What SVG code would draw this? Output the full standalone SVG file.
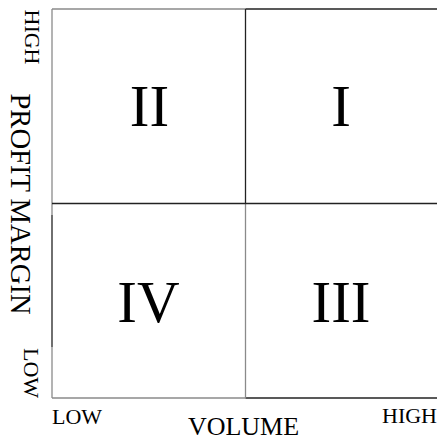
<svg xmlns="http://www.w3.org/2000/svg" width="437" height="440" viewBox="0 0 437 440">
<style>
text{font-family:"Liberation Serif","Times New Roman",serif;fill:#000}
.ax{font-size:22px}
.num{font-size:59px;text-anchor:middle}
.ln{fill:none;stroke-width:1.3}
.dk{stroke:#222}
.gr{stroke:#8a8a8a}
</style>
<rect width="437" height="440" fill="#fff"/>
<g id="grid">
<line class="ln gr" x1="52" y1="9" x2="245.5" y2="9"/>
<line class="ln dk" x1="245.5" y1="9" x2="437" y2="9"/>
<line class="ln gr" x1="52" y1="9" x2="52" y2="215"/>
<line class="ln dk" x1="52" y1="215" x2="52" y2="347"/>
<line class="ln gr" x1="52" y1="347" x2="52" y2="398"/>
<line class="ln gr" x1="52" y1="398" x2="245.5" y2="398"/>
<line class="ln dk" x1="245.5" y1="398" x2="437" y2="398"/>
<line class="ln dk" x1="245.5" y1="9" x2="245.5" y2="203.5"/>
<line class="ln gr" x1="245.5" y1="203.5" x2="245.5" y2="398"/>
<line class="ln dk" x1="52" y1="203.5" x2="437" y2="203.5"/>
</g>
<g id="q1"><text class="num" x="341" y="126">I</text></g>
<g id="q2"><text class="num" x="149.5" y="126">II</text></g>
<g id="q3"><text class="num" x="341" y="322">III</text></g>
<g id="q4"><text class="num" x="148.5" y="322">IV</text></g>
<g id="y-axis">
<text style="font-size:28.6px" text-anchor="middle" transform="translate(10.5 204) rotate(90)">PROFIT MARGIN</text>
<text class="ax" text-anchor="middle" transform="translate(25 37) rotate(90)">HIGH</text>
<text class="ax" text-anchor="middle" transform="translate(24 373) rotate(90)">LOW</text>
</g>
<g id="x-axis">
<text class="ax" x="52" y="424">LOW</text>
<text class="ax" x="437" y="423" text-anchor="end">HIGH</text>
<text style="font-size:26px" x="243.5" y="434.5" text-anchor="middle">VOLUME</text>
</g>
</svg>
